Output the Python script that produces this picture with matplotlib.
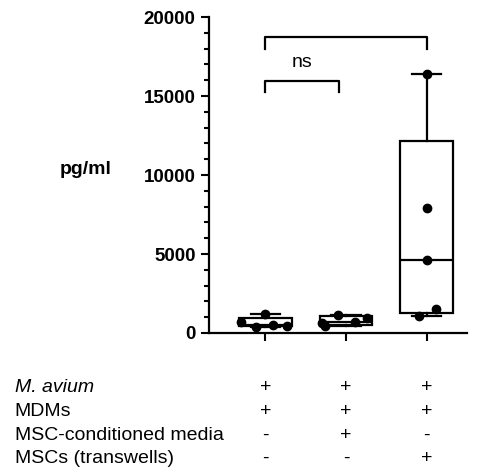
import numpy as np
import matplotlib.pyplot as plt
from matplotlib.ticker import MultipleLocator

plt.rcParams['font.family'] = ['Liberation Sans', 'DejaVu Sans']

groups = [1, 2, 3]
vals_mavium = [1180, 700, 480, 450, 400]
vals_cm = [1150, 950, 700, 640, 420]
vals_tw = [16400, 7900, 4600, 1500, 1050]
spread_mavium = [0, -0.3, 0.1, 0.27, -0.12]
spread_cm = [-0.1, 0.26, 0.11, -0.3, -0.26]
spread_tw = [0, 0, 0, 0.11, -0.1]

yticks = [0, 5000, 10000, 15000, 20000]
row_names = ['M. avium', 'MDMs', 'MSC-conditioned media', 'MSCs (transwells)']
row_signs = [['+', '+', '+'], ['+', '+', '+'], ['-', '+', '-'], ['-', '-', '+']]

data = [vals_mavium, vals_cm, vals_tw]
spreads = [spread_mavium, spread_cm, spread_tw]

fig = plt.figure(figsize=(4.79, 4.73), dpi=100)
ax = fig.add_axes([0.436, 0.296, 0.539, 0.668])

stats = []
for v in data:
    q1, med, q3 = np.percentile(v, [25, 50, 75], method='weibull')
    stats.append(dict(med=med, q1=q1, q3=q3, whislo=min(v), whishi=max(v), fliers=[]))

lw = 1.6
ax.bxp(stats, positions=groups, widths=0.65, showfliers=False, patch_artist=True,
       boxprops=dict(facecolor='white', edgecolor='black', linewidth=lw),
       whiskerprops=dict(color='black', linewidth=lw),
       capprops=dict(color='black', linewidth=lw),
       medianprops=dict(color='black', linewidth=lw),
       capwidths=0.36, zorder=2)

for g, v, s in zip(groups, data, spreads):
    ax.plot(np.array(s) + g, v, 'o', color='black', markersize=6, zorder=3, clip_on=False)

ax.set_xlim(0.3, 3.5)
ax.set_ylim(0, 20000)
ax.set_yticks(yticks)
ax.yaxis.set_minor_locator(MultipleLocator(1000))
ax.set_xticks(groups)
ax.set_xticklabels([])
for lab in ax.get_yticklabels():
    lab.set_fontweight('bold')
ax.tick_params(axis='y', which='major', labelsize=13.5, length=6, width=1.5)
ax.tick_params(axis='y', which='minor', length=3.5, width=1.5)
ax.tick_params(axis='x', which='major', length=6, width=1.5)
for side in ['top', 'right']:
    ax.spines[side].set_visible(False)
for side in ['left', 'bottom']:
    ax.spines[side].set_linewidth(1.6)

ax.text(-0.477, 0.516, 'pg/ml', transform=ax.transAxes, ha='center', va='center',
        fontsize=14, fontweight='bold')

# significance brackets
ax.plot([1, 1, 3, 3], [17950, 18730, 18730, 17950], color='black', lw=1.6, clip_on=False)
ax.plot([1, 1, 1.91, 1.91], [15250, 15950, 15950, 15250], color='black', lw=1.6, clip_on=False)
ax.text(1.455, 17100, 'ns', ha='center', va='center', fontsize=14)

# condition table
trans = ax.get_xaxis_transform()
row_y = [-0.174, -0.25, -0.323, -0.396]
for name, signs, y in zip(row_names, row_signs, row_y):
    style = 'italic' if name == 'M. avium' else 'normal'
    ax.text(-0.752, y, name, transform=ax.transAxes, fontsize=14, style=style,
            va='center', ha='left')
    for g, sgn in zip(groups, signs):
        ax.text(g, y, sgn, transform=trans, ha='center', va='center', fontsize=14)

fig.savefig('out.png', dpi=100)
